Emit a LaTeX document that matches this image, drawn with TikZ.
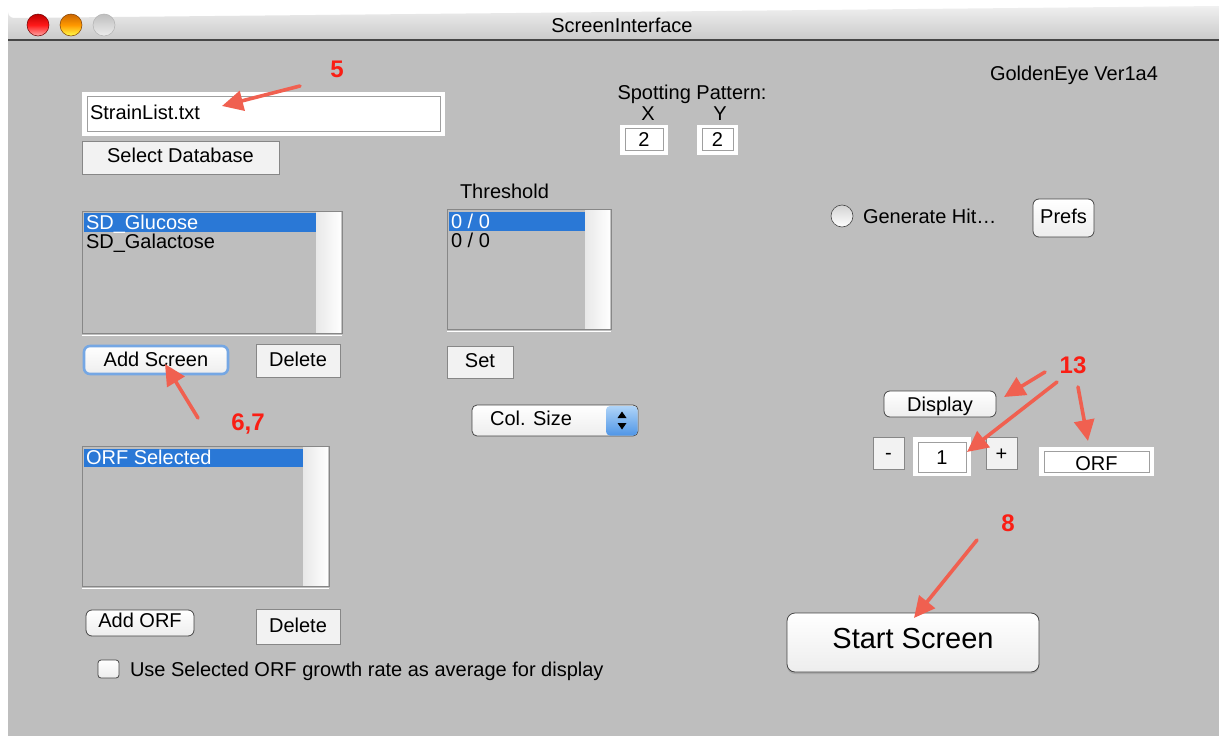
\documentclass[tikz,border=0pt]{standalone}
\usepackage{fontspec}
\setmainfont{Liberation Sans}
\usetikzlibrary{arrows.meta,shadows}
\definecolor{winbg}{RGB}{190,190,190}
\definecolor{selblue}{RGB}{42,120,214}
\definecolor{annred}{RGB}{250,30,20}
\definecolor{arrred}{RGB}{240,96,80}
\definecolor{framec}{RGB}{135,135,135}
\definecolor{btnfill}{RGB}{242,242,242}
\definecolor{popblueA}{RGB}{175,212,248}
\definecolor{popblueB}{RGB}{80,150,230}
\begin{document}
\begin{tikzpicture}[x=1pt,y=-1pt,
  every node/.style={inner sep=0pt, outer sep=0pt, font=\fontsize{20}{24}\selectfont},
  txt/.style={anchor=base west},
  ctxt/.style={anchor=base},
  seltxt/.style={anchor=base west, text=white},
  sqbtn/.style={draw=framec, fill=btnfill, line width=0.8pt, anchor=north west},
  rndbtn/.style={draw=gray!55!black, rounded corners=6pt, top color=white, bottom color=gray!14, line width=0.8pt, anchor=north west},
  fieldouter/.style={fill=white, anchor=north west},
  fieldinner/.style={draw=gray!75, fill=white, line width=0.8pt, anchor=north west},
  listbox/.style={draw=framec, fill=winbg, line width=0.8pt},
  num/.style={anchor=base, text=annred, font=\fontsize{24}{27}\selectfont\bfseries},
  annarrow/.style={draw=arrred, line width=3.6pt, line cap=round, -{Triangle[length=21pt,width=20pt]}}
]
\useasboundingbox (0,0) rectangle (1219,736);
\fill[white] (0,0) rectangle (1219,736);
% window body
\fill[winbg] (8,40) rectangle (1219,736);
% title bar
\shade[top color=gray!12, bottom color=gray!42] (8,40) -- (8,12) arc[start angle=180, end angle=90, radius=6] -- (1219,6) -- (1219,40) -- cycle;
\draw[gray!55!black, line width=1.2pt] (8,40) -- (1219,40);
\node[circle, minimum size=22pt, top color=red!75!black, bottom color=red!35!white, middle color=red!90!white, draw=red!45!black, line width=0.5pt] (btnclose) at (38,25) {};
\node[circle, minimum size=22pt, top color=orange!80!black, bottom color=yellow!70!white, middle color=orange!80!yellow, draw=orange!50!black, line width=0.5pt] (btnmin) at (71,25) {};
\node[circle, minimum size=22pt, top color=gray!50, bottom color=gray!15, draw=gray!60, line width=0.5pt] (btnzoom) at (104,25) {};
\node[ctxt] (title) at (622,32) {ScreenInterface};
\node[txt] (version) at (990,80) {GoldenEye Ver1a4};

% database field
\node[fieldouter, minimum width=363pt, minimum height=44pt] (dbouter) at (82,92) {};
\node[fieldinner, minimum width=353pt, minimum height=35pt] (dbinner) at (87,96) {};
\node[txt] (dbtext) at (90,119) {StrainList.txt};
\node[sqbtn, minimum width=197pt, minimum height=33pt] (seldb) at (82,141) {};
\node[ctxt] (seldbt) at (180.5,162) {Select Database};

% spotting pattern
\node[ctxt] (spot) at (692,99) {Spotting Pattern:};
\node[ctxt] (xlab) at (648,120) {X};
\node[ctxt] (ylab) at (720,120) {Y};
\node[fieldouter, minimum width=48pt, minimum height=30pt] (xouter) at (620,125) {};
\node[fieldinner, minimum width=38pt, minimum height=22pt] (xinner) at (625,128) {};
\node[ctxt] (xval) at (644,146) {2};
\node[fieldouter, minimum width=41pt, minimum height=30pt] (youter) at (697,125) {};
\node[fieldinner, minimum width=31pt, minimum height=22pt] (yinner) at (702,128) {};
\node[ctxt] (yval) at (717.5,146) {2};

% screen list
\path[listbox] (82,211) rectangle (342,333);
\shade[left color=gray!18, right color=white] (316,212) rectangle (341,332);
\fill[selblue] (84,213) rectangle (316,232);
\draw[white, line width=1.2pt] (82,335.5) -- (342,335.5);
\node[seltxt] (glu) at (86,229) {SD\_Glucose};
\node[txt] (gal) at (86,248) {SD\_Galactose};

% add screen / delete
\node[rndbtn, draw=selblue!65!white, line width=2.6pt, minimum width=144pt, minimum height=28pt] (addscr) at (84,346) {};
\node[ctxt] (addscrt) at (156,366) {Add Screen};
\node[sqbtn, minimum width=84pt, minimum height=33pt] (del1) at (256,344) {};
\node[ctxt] (del1t) at (298,366) {Delete};

% threshold
\node[txt] (thr) at (460,198) {Threshold};
\path[listbox] (447,209) rectangle (611,329);
\shade[left color=gray!18, right color=white] (585,210) rectangle (610,328);
\fill[selblue] (449,212) rectangle (585,231);
\draw[white, line width=1.2pt] (447,331.5) -- (611,331.5);
\node[seltxt] (thr1) at (451,228) {0 / 0};
\node[txt] (thr2) at (451,247) {0 / 0};
\node[sqbtn, minimum width=66pt, minimum height=32pt] (setb) at (447,346) {};
\node[ctxt] (setbt) at (480,367) {Set};

% popup
\node[rndbtn, rounded corners=5pt, minimum width=166pt, minimum height=31pt] (colsize) at (472,405) {};
\shade[top color=popblueA, bottom color=popblueB, rounded corners=4pt] (606,406) rectangle (637.5,435.5);
\fill[black] (617.5,418) -- (626.5,418) -- (622,411.5) -- cycle;
\fill[black] (617.5,423) -- (626.5,423) -- (622,429.5) -- cycle;
\node[ctxt] (colsizet) at (531,425) {Col. Size};

% ORF list
\path[listbox] (82,446) rectangle (329,586);
\shade[left color=gray!18, right color=white] (303,447) rectangle (328,585);
\fill[selblue] (84,449) rectangle (303,467);
\draw[white, line width=1.2pt] (82,588.5) -- (329,588.5);
\node[seltxt] (orfsel) at (86,464) {ORF Selected};

\node[rndbtn, minimum width=108pt, minimum height=26pt] (addorf) at (86,610) {};
\node[ctxt] (addorft) at (140,627) {Add ORF};
\node[sqbtn, minimum width=84pt, minimum height=35pt] (del2) at (256,609) {};
\node[ctxt] (del2t) at (298,632) {Delete};
\node[rndbtn, rounded corners=3pt, minimum width=21pt, minimum height=18pt] (chk) at (98,660) {};
\node[txt] (chkt) at (130,676) {Use Selected ORF growth rate as average for display};

% right side
\node[circle, minimum size=22pt, top color=gray!35, bottom color=white, draw=gray!55!black, line width=0.6pt] (radio) at (842,216) {};
\node[txt] (gen) at (863,223) {Generate Hit…};
\node[rndbtn, minimum width=61pt, minimum height=38pt] (prefs) at (1033,199) {};
\node[ctxt] (prefst) at (1063.5,223) {Prefs};

\node[rndbtn, minimum width=112pt, minimum height=26pt] (display) at (884,391) {};
\node[ctxt] (displayt) at (940,411) {Display};
\node[sqbtn, minimum width=31pt, minimum height=32pt] (minus) at (873,437) {};
\node[ctxt] (minust) at (888.5,459) {-};
\node[fieldouter, minimum width=58pt, minimum height=39pt] (oneouter) at (913,437) {};
\node[fieldinner, minimum width=48pt, minimum height=30pt] (oneinner) at (918,442) {};
\node[ctxt] (onet) at (942,464) {1};
\node[sqbtn, minimum width=31pt, minimum height=32pt] (plus) at (986,437) {};
\node[ctxt] (plust) at (1001.5,460) {+};
\node[fieldouter, minimum width=115pt, minimum height=29pt] (orfouter) at (1039,447) {};
\node[fieldinner, minimum width=105pt, minimum height=21pt] (orfinner) at (1044,451) {};
\node[ctxt] (orft) at (1096.5,470) {ORF};

\node[rndbtn, rounded corners=8pt, minimum width=252pt, minimum height=59pt,
  drop shadow={shadow xshift=0pt, shadow yshift=-2pt, opacity=0.35}] (start) at (787,613) {};
\node[ctxt, font=\fontsize{29}{32}\selectfont] (startt) at (913,648) {Start Screen};

% annotations
\node[num] (n5) at (337,77) {5};
\coordinate (a5s) at (300,86);
\coordinate (a5e) at (222,106);
\draw[annarrow] (a5s) -- (a5e);

\node[num] (n67) at (248,430) {6,7};
\coordinate (a67s) at (198,418);
\coordinate (a67e) at (165,364);
\draw[annarrow] (a67s) -- (a67e);

\node[num] (n13) at (1073,373) {13};
\coordinate (a13as) at (1045,372);
\coordinate (a13ae) at (1004,397);
\coordinate (a13bs) at (1057,382);
\coordinate (a13be) at (967,452);
\coordinate (a13cs) at (1078,387);
\coordinate (a13ce) at (1088,441);
\draw[annarrow] (a13as) -- (a13ae);
\draw[annarrow] (a13bs) -- (a13be);
\draw[annarrow] (a13cs) -- (a13ce);

\node[num] (n8) at (1008,531) {8};
\coordinate (a8s) at (977,540);
\coordinate (a8e) at (914,618);
\draw[annarrow] (a8s) -- (a8e);
\end{tikzpicture}
\end{document}
